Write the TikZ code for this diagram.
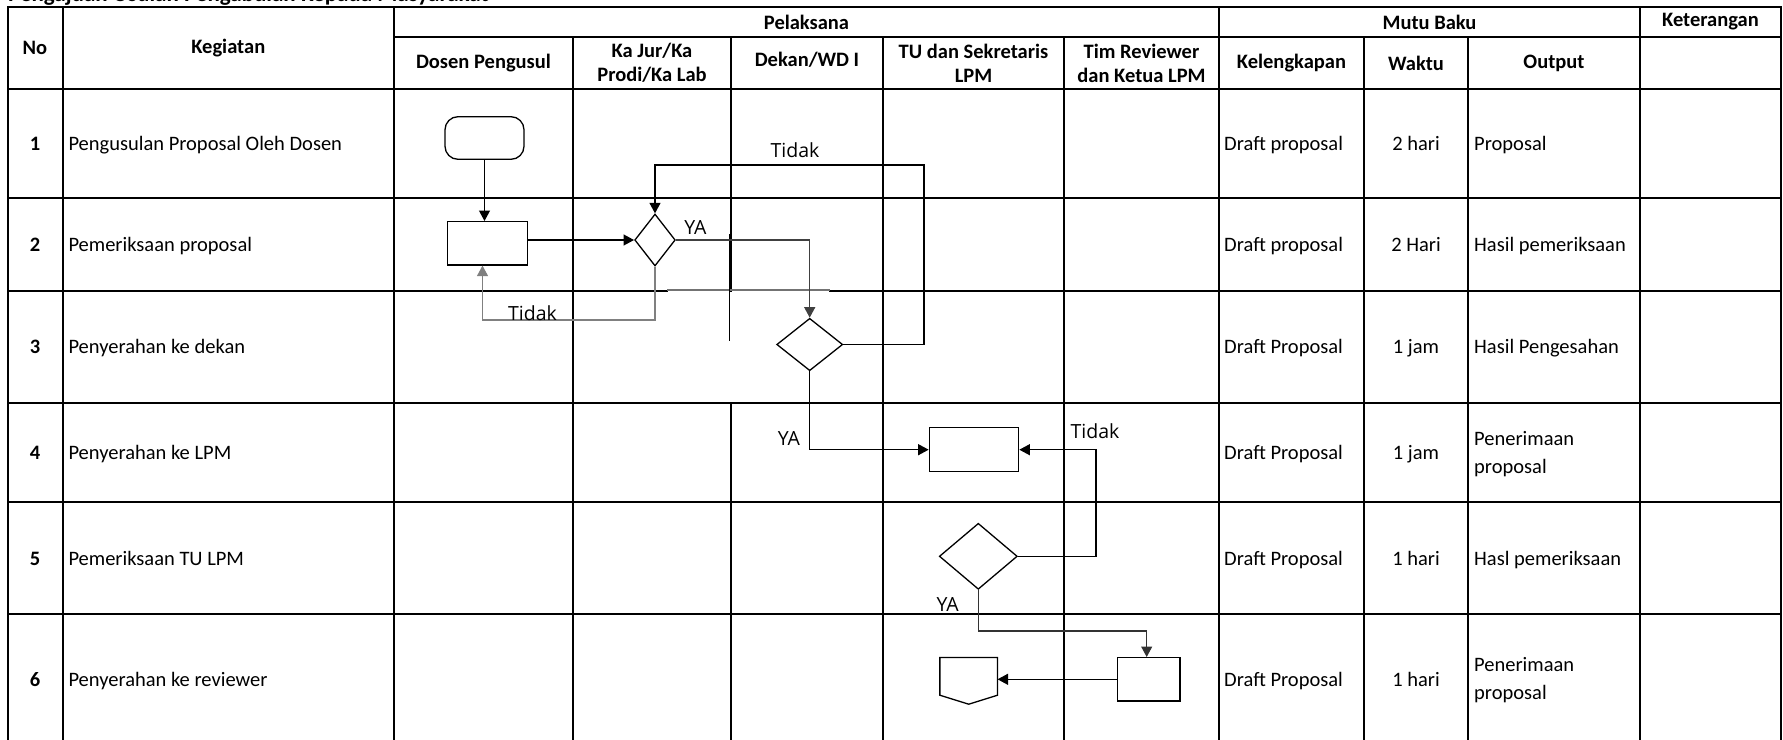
\documentclass[tikz,border=0pt]{standalone}
\usepackage{fontspec}
\setmainfont{Carlito}
\newfontfamily\lblfont{Open Sans}
\usetikzlibrary{arrows.meta,shapes.geometric,calc}
\begin{document}
\begin{tikzpicture}[x=1pt,y=-1pt,
  grid/.style={line width=2.4pt, line cap=rect},
  procbox/.style={draw, line width=1.3pt, fill=white, rectangle, inner sep=0pt},
  decide/.style={draw, line width=1.3pt, fill=white, diamond, inner sep=0pt},
  arr/.style={line width=1.2pt, -{Triangle[length=10.5pt,width=11pt]}},
  lbl/.style={font=\lblfont\fontsize{19.5}{22}\selectfont, inner sep=0pt},
  hdr/.style={font=\bfseries\fontsize{20.5}{24}\selectfont, inner sep=0pt, align=center},
  cell/.style={font=\fontsize{20.5}{25}\selectfont, inner sep=0pt, anchor=base west},
  cellc/.style={font=\fontsize{20.5}{25}\selectfont, inner sep=0pt, anchor=base},
  num/.style={font=\bfseries\fontsize{20.5}{25}\selectfont, inner sep=0pt, anchor=base}
]
\useasboundingbox (0,0) rectangle (1783,739);
\clip (0,0) rectangle (1783,739);

% title (cut at top)
\node[font=\bfseries\fontsize{23}{27}\selectfont, anchor=base west, inner sep=0pt] (title) at (8,1.5) {Pengajuan Usulan Pengabdian Kepada Masyarakat};

% grid
\draw[grid] (8,7) -- (1781,7);
\draw[grid] (394,37) -- (1781,37);
\foreach \yy in {89,198,403,502,614} \draw[grid] (8,\yy) -- (1781,\yy);
\draw[grid] (8,291) -- (667,291);
\draw[grid] (830,291) -- (1781,291);
\foreach \xx in {8,62.7,394,1219,1640,1781} \draw[grid] (\xx,7) -- (\xx,760);
\foreach \xx in {573,883,1064,1364,1468} \draw[grid] (\xx,37) -- (\xx,760);
\draw[grid] (731,37) -- (731,291);
\draw[grid] (731,403) -- (731,760);
\draw[line width=1.1pt, black!55] (667,290) -- (830,290);
\draw[line width=1.3pt] (729.5,234) -- (729.5,341);

% headers
\node[hdr] (hno) at (35,47.7) {No};
\node[hdr] (hkeg) at (228.3,47.7) {Kegiatan};
\node[hdr] (hpel) at (806.5,22) {Pelaksana};
\node[hdr] (hmutu) at (1429.5,22) {Mutu Baku};
\node[hdr] (hket) at (1710.5,22) {Keterangan};
\node[hdr] (hdos) at (483.5,63.5) {Dosen Pengusul};
\node[hdr] (hkajur) at (652,63) {Ka Jur/Ka\\Prodi/Ka Lab};
\node[hdr] (hdek) at (807,60) {Dekan/WD I};
\node[hdr] (htu) at (973.5,63) {TU dan Sekretaris\\LPM};
\node[hdr] (htim) at (1141.5,63) {Tim Reviewer\\dan Ketua LPM};
\node[hdr] (hkel) at (1291.5,63.5) {Kelengkapan};
\node[hdr] (hwak) at (1416,63.5) {Waktu};
\node[hdr] (hout) at (1554,63.5) {Output};

% row 1
\node[num] (n1) at (35,150.2) {1};
\node[cell] (k1) at (68.3,150.2) {Pengusulan Proposal Oleh Dosen};
\node[cell] (l1) at (1224,150.2) {Draft proposal};
\node[cellc] (w1t) at (1416,150.2) {2 hari};
\node[cell] (o1) at (1474,150.2) {Proposal};
% row 2
\node[num] (n2) at (35,251.2) {2};
\node[cell] (k2) at (68.3,251.2) {Pemeriksaan proposal};
\node[cell] (l2) at (1224,251.2) {Draft proposal};
\node[cellc] (w2t) at (1416,251.2) {2 Hari};
\node[cell] (o2) at (1474,251.2) {Hasil pemeriksaan};
% row 3
\node[num] (n3) at (35,353.5) {3};
\node[cell] (k3) at (68.3,353.5) {Penyerahan ke dekan};
\node[cell] (l3) at (1224,353.5) {Draft Proposal};
\node[cellc] (w3t) at (1416,353.5) {1 jam};
\node[cell] (o3) at (1474,353.5) {Hasil Pengesahan};
% row 4
\node[num] (n4) at (35,459.4) {4};
\node[cell] (k4) at (68.3,459.4) {Penyerahan ke LPM};
\node[cell] (l4) at (1224,459.4) {Draft Proposal};
\node[cellc] (w4t) at (1416,459.4) {1 jam};
\node[cell] (o4a) at (1474,445.4) {Penerimaan};
\node[cell] (o4b) at (1474,473.4) {proposal};
% row 5
\node[num] (n5) at (35,565) {5};
\node[cell] (k5) at (68.3,565) {Pemeriksaan TU LPM};
\node[cell] (l5) at (1224,565) {Draft Proposal};
\node[cellc] (w5t) at (1416,565) {1 hari};
\node[cell] (o5) at (1474,565) {Hasl pemeriksaan};
% row 6
\node[num] (n6) at (35,686.3) {6};
\node[cell] (k6) at (68.3,686.3) {Penyerahan ke reviewer};
\node[cell] (l6) at (1224,686.3) {Draft Proposal};
\node[cellc] (w6t) at (1416,686.3) {1 hari};
\node[cell] (o6a) at (1474,671) {Penerimaan};
\node[cell] (o6b) at (1474,699) {proposal};

% flowchart shapes
\node[procbox, rounded corners=13pt, minimum width=79pt, minimum height=42.6pt] (start) at (484.5,138) {};
\node[procbox, minimum width=79.6pt, minimum height=43.3pt] (p1) at (487.5,243.3) {};
\node[decide, minimum width=40.6pt, minimum height=52pt] (d1) at (655,240) {};
\node[decide, minimum width=66pt, minimum height=52.4pt] (d2) at (809.7,344.5) {};
\node[procbox, minimum width=89.4pt, minimum height=44pt] (p2) at (974,449.7) {};
\node[decide, minimum width=78pt, minimum height=66pt] (d3) at (978.3,556.3) {};
\node[procbox, minimum width=62.7pt, minimum height=43.3pt] (p3) at (1148.7,679.3) {};
\node[minimum width=57.3pt, minimum height=46.3pt, inner sep=0pt] (off) at (968.7,680.85) {};
\draw[line width=1.3pt, fill=white] (off.north west) -- (off.north east) -- ([yshift=9pt]off.south east) -- (off.south) -- ([yshift=9pt]off.south west) -- cycle;

% connectors
\coordinate (c1) at (482.5,320);
\coordinate (c2) at (924,165);
\coordinate (c3) at (1096,449.7);
\coordinate (c4) at (1146.7,631);
\draw[arr] (start.south) -- (start.south |- p1.north);
\draw[arr] (p1.east |- d1.west) -- (d1.west);
\draw[arr, draw=black!75] (d1.east) -| (d2.north);
\draw[arr, draw=black!50] (d1.south) |- (c1) -- (c1 |- p1.south);
\draw[arr] (d2.east) -| (c2) -| (d1.north);
\draw[arr] (d2.south) |- (p2.west);
\draw[arr] (d3.east) -| (c3) -- (p2.east);
\draw[arr, draw=black!80] (d3.south) |- (c4) -- (c4 |- p3.north);
\draw[arr] (p3.west) -- (p3.west -| off.east);

% labels
\node[lbl] (lt1) at (795,150) {Tidak};
\node[lbl] (ly1) at (695.3,227.3) {YA};
\node[lbl] (lt2) at (532.5,313) {Tidak};
\node[lbl] (ly2) at (789,439) {YA};
\node[lbl] (lt3) at (1095,431) {Tidak};
\node[lbl] (ly3) at (947.7,605) {YA};
\end{tikzpicture}
\end{document}
